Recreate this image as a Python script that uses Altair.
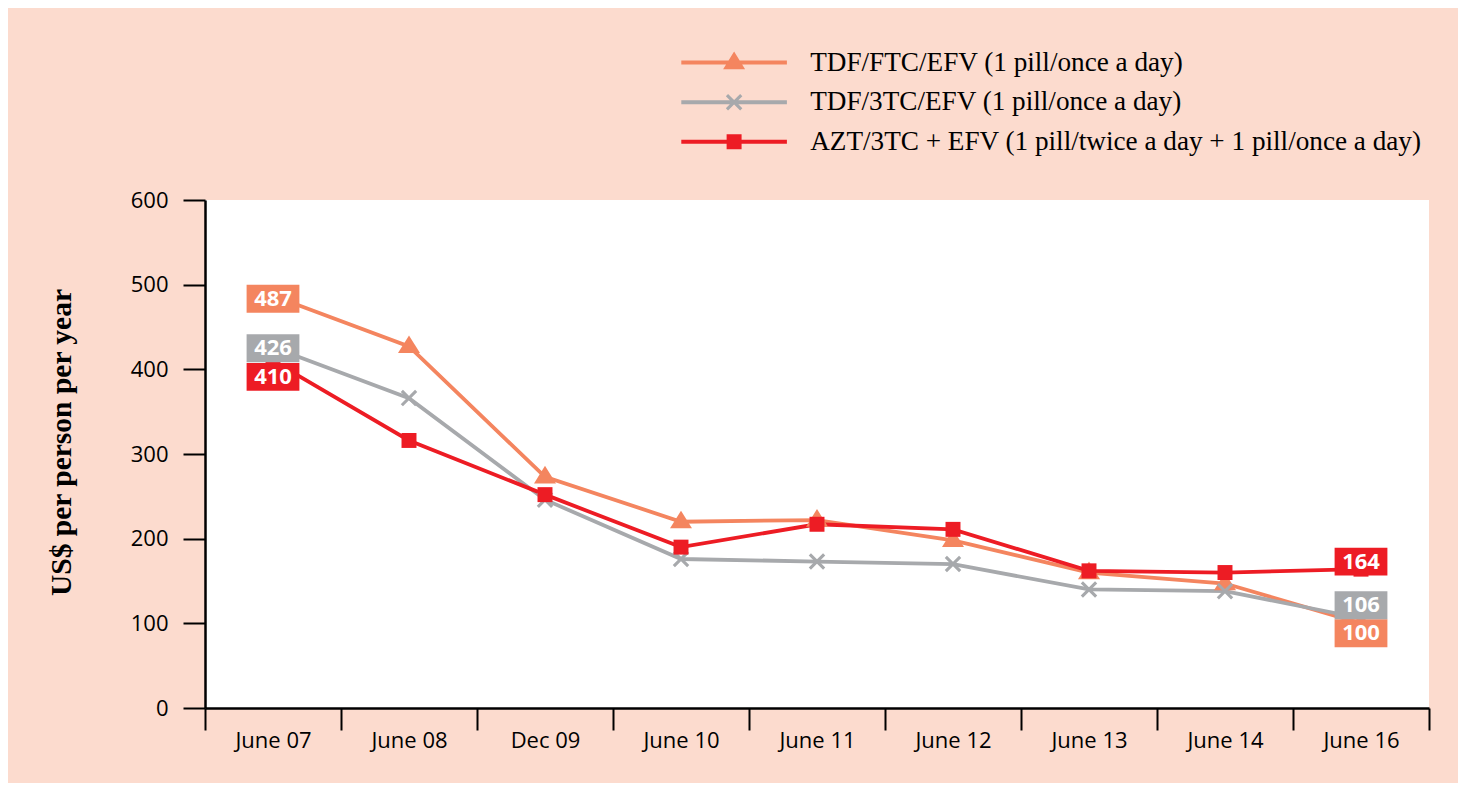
import altair as alt
import pandas as pd

# ---------------- data ----------------
periods = ["June 07", "June 08", "Dec 09", "June 10", "June 11", "June 12", "June 13", "June 14", "June 16"]
series = [
    "TDF/FTC/EFV (1 pill/once a day)",
    "TDF/3TC/EFV (1 pill/once a day)",
    "AZT/3TC + EFV (1 pill/twice a day + 1 pill/once a day)",
]
tdf_ftc_efv = [487, 427, 273, 220, 222, 198, 160, 147, 100]
tdf_3tc_efv = [426, 366, 246, 176, 173, 170, 140, 138, 106]
azt_3tc_efv = [410, 316, 252, 190, 217, 211, 162, 160, 164]
y_ticks = [0, 100, 200, 300, 400, 500, 600]

# ---------------- styles ----------------
colors = ["#F4855F", "#A7A9AC", "#ED1C24"]
BG = "#FCDBCE"
SANS = "Open Sans"
SERIF = "Liberation Serif"
SYM = 484  # symbol size -> unit = 11px

tri = "M-1,0.6L0,-1L1,0.6Z"
xmark = ("M-0.64,-0.86L0.86,0.64L0.64,0.86L-0.86,-0.64Z"
         "M0.86,-0.64L-0.64,0.86L-0.86,0.64L0.64,-0.86Z")
xmark = ("M-0.55,-0.75L0.75,0.55L0.55,0.75L-0.75,-0.55Z"
         "M0.75,-0.55L-0.55,0.75L-0.75,0.55L0.55,-0.75Z")
sq = "M-0.68,-0.68H0.68V0.68H-0.68Z"
marker_paths = [tri, xmark, sq]
line_part = "M-4.8,-0.18H4.8V0.18H-4.8Z"
legend_paths = [line_part + p for p in marker_paths]
box_path = "M-2.4,-1.27H2.4V1.27H-2.4Z"

# per-label vertical nudges (pixels) for the value boxes: (series index, end) -> dy
label_dy = {(0, 0): 3, (1, 0): 1, (2, 0): 16, (0, 1): 10, (1, 1): -13, (2, 1): -7.5}

values = [tdf_ftc_efv, tdf_3tc_efv, azt_3tc_efv]
rows = []
for s, vals in zip(series, values):
    for p, v in zip(periods, vals):
        rows.append({"period": p, "series": s, "value": v})
df = pd.DataFrame(rows)

x_enc = alt.X(
    "period:N",
    sort=periods,
    scale=alt.Scale(domain=periods, paddingInner=0, paddingOuter=0),
    axis=alt.Axis(
        title=None, labelAngle=0, tickBand="extent", tickSize=22, tickWidth=2,
        tickColor="black", domainColor="black", domainWidth=2.5,
        labelFont=SANS, labelFontSize=22, labelColor="black", labelPadding=0,
    ),
)
y_enc = alt.Y(
    "value:Q",
    scale=alt.Scale(domain=[0, 600], nice=False),
    axis=alt.Axis(
        values=y_ticks, title="US$ per person per year", tickSize=22, tickWidth=2,
        tickColor="black", domainColor="black", domainWidth=2.5, grid=False,
        labelFont=SANS, labelFontSize=22, labelColor="black", labelPadding=15,
        titleFont=SERIF, titleFontSize=29.5, titleFontWeight="bold", titleColor="black",
        titleAngle=-90, titleBaseline="alphabetic", titleAlign="center",
        titleX=-135, titleY=242,
    ),
)

base = alt.Chart(df)

lines = base.mark_line(strokeWidth=3.8).encode(
    x=x_enc, y=y_enc,
    color=alt.Color("series:N", scale=alt.Scale(domain=series, range=colors), legend=None),
)

points = base.mark_point(filled=True, size=SYM, opacity=1, strokeWidth=0).encode(
    x=x_enc, y=y_enc,
    fill=alt.Fill("series:N", scale=alt.Scale(domain=series, range=colors), legend=None),
    shape=alt.Shape("series:N", scale=alt.Scale(domain=series, range=marker_paths), legend=None),
)

leg = alt.Legend(
    title=None, orient="none", direction="vertical", legendX=515.5, legendY=-151,
    symbolSize=SYM, symbolStrokeWidth=0, symbolOpacity=1,
    labelFont=SERIF, labelFontSize=27.2, labelColor="black", labelOffset=62.5,
    rowPadding=11.6, labelLimit=1000,
)
legend_layer = base.transform_filter("datum.value < 0").mark_point(
    filled=True, size=SYM, opacity=1, strokeWidth=0
).encode(
    x=x_enc, y=y_enc,
    fill=alt.Fill("series:N", scale=alt.Scale(domain=series, range=colors), legend=leg),
    shape=alt.Shape("series:N", scale=alt.Scale(domain=series, range=legend_paths), legend=leg),
)

label_layers = []
for i, (s, vals) in enumerate(zip(series, values)):
    for end, idx in ((0, 0), (1, len(periods) - 1)):
        ldf = pd.DataFrame([{"period": periods[idx], "value": vals[idx], "txt": str(vals[idx])}])
        dy = label_dy[(i, end)]
        lb = alt.Chart(ldf)
        label_layers.append(
            lb.mark_point(shape=box_path, size=SYM, filled=True, color=colors[i],
                          opacity=1, strokeWidth=0, yOffset=dy).encode(x=x_enc, y=y_enc)
        )
        label_layers.append(
            lb.mark_text(dy=dy, align="center", baseline="middle", font=SANS,
                         fontSize=22, fontWeight="bold", color="white").encode(
                x=x_enc, y=y_enc, text="txt:N")
        )

chart = alt.layer(lines, points, legend_layer, *label_layers).resolve_scale(
    fill="independent", shape="independent", color="independent"
).properties(
    width=1224, height=508,
    autosize=alt.AutoSizeParams(type="none"),
    padding={"left": 197, "top": 192, "right": 29, "bottom": 75},
    background=BG,
).configure_view(stroke=None, fill="white")

chart.save("out.html", embed_options={"renderer": "svg", "actions": False})
